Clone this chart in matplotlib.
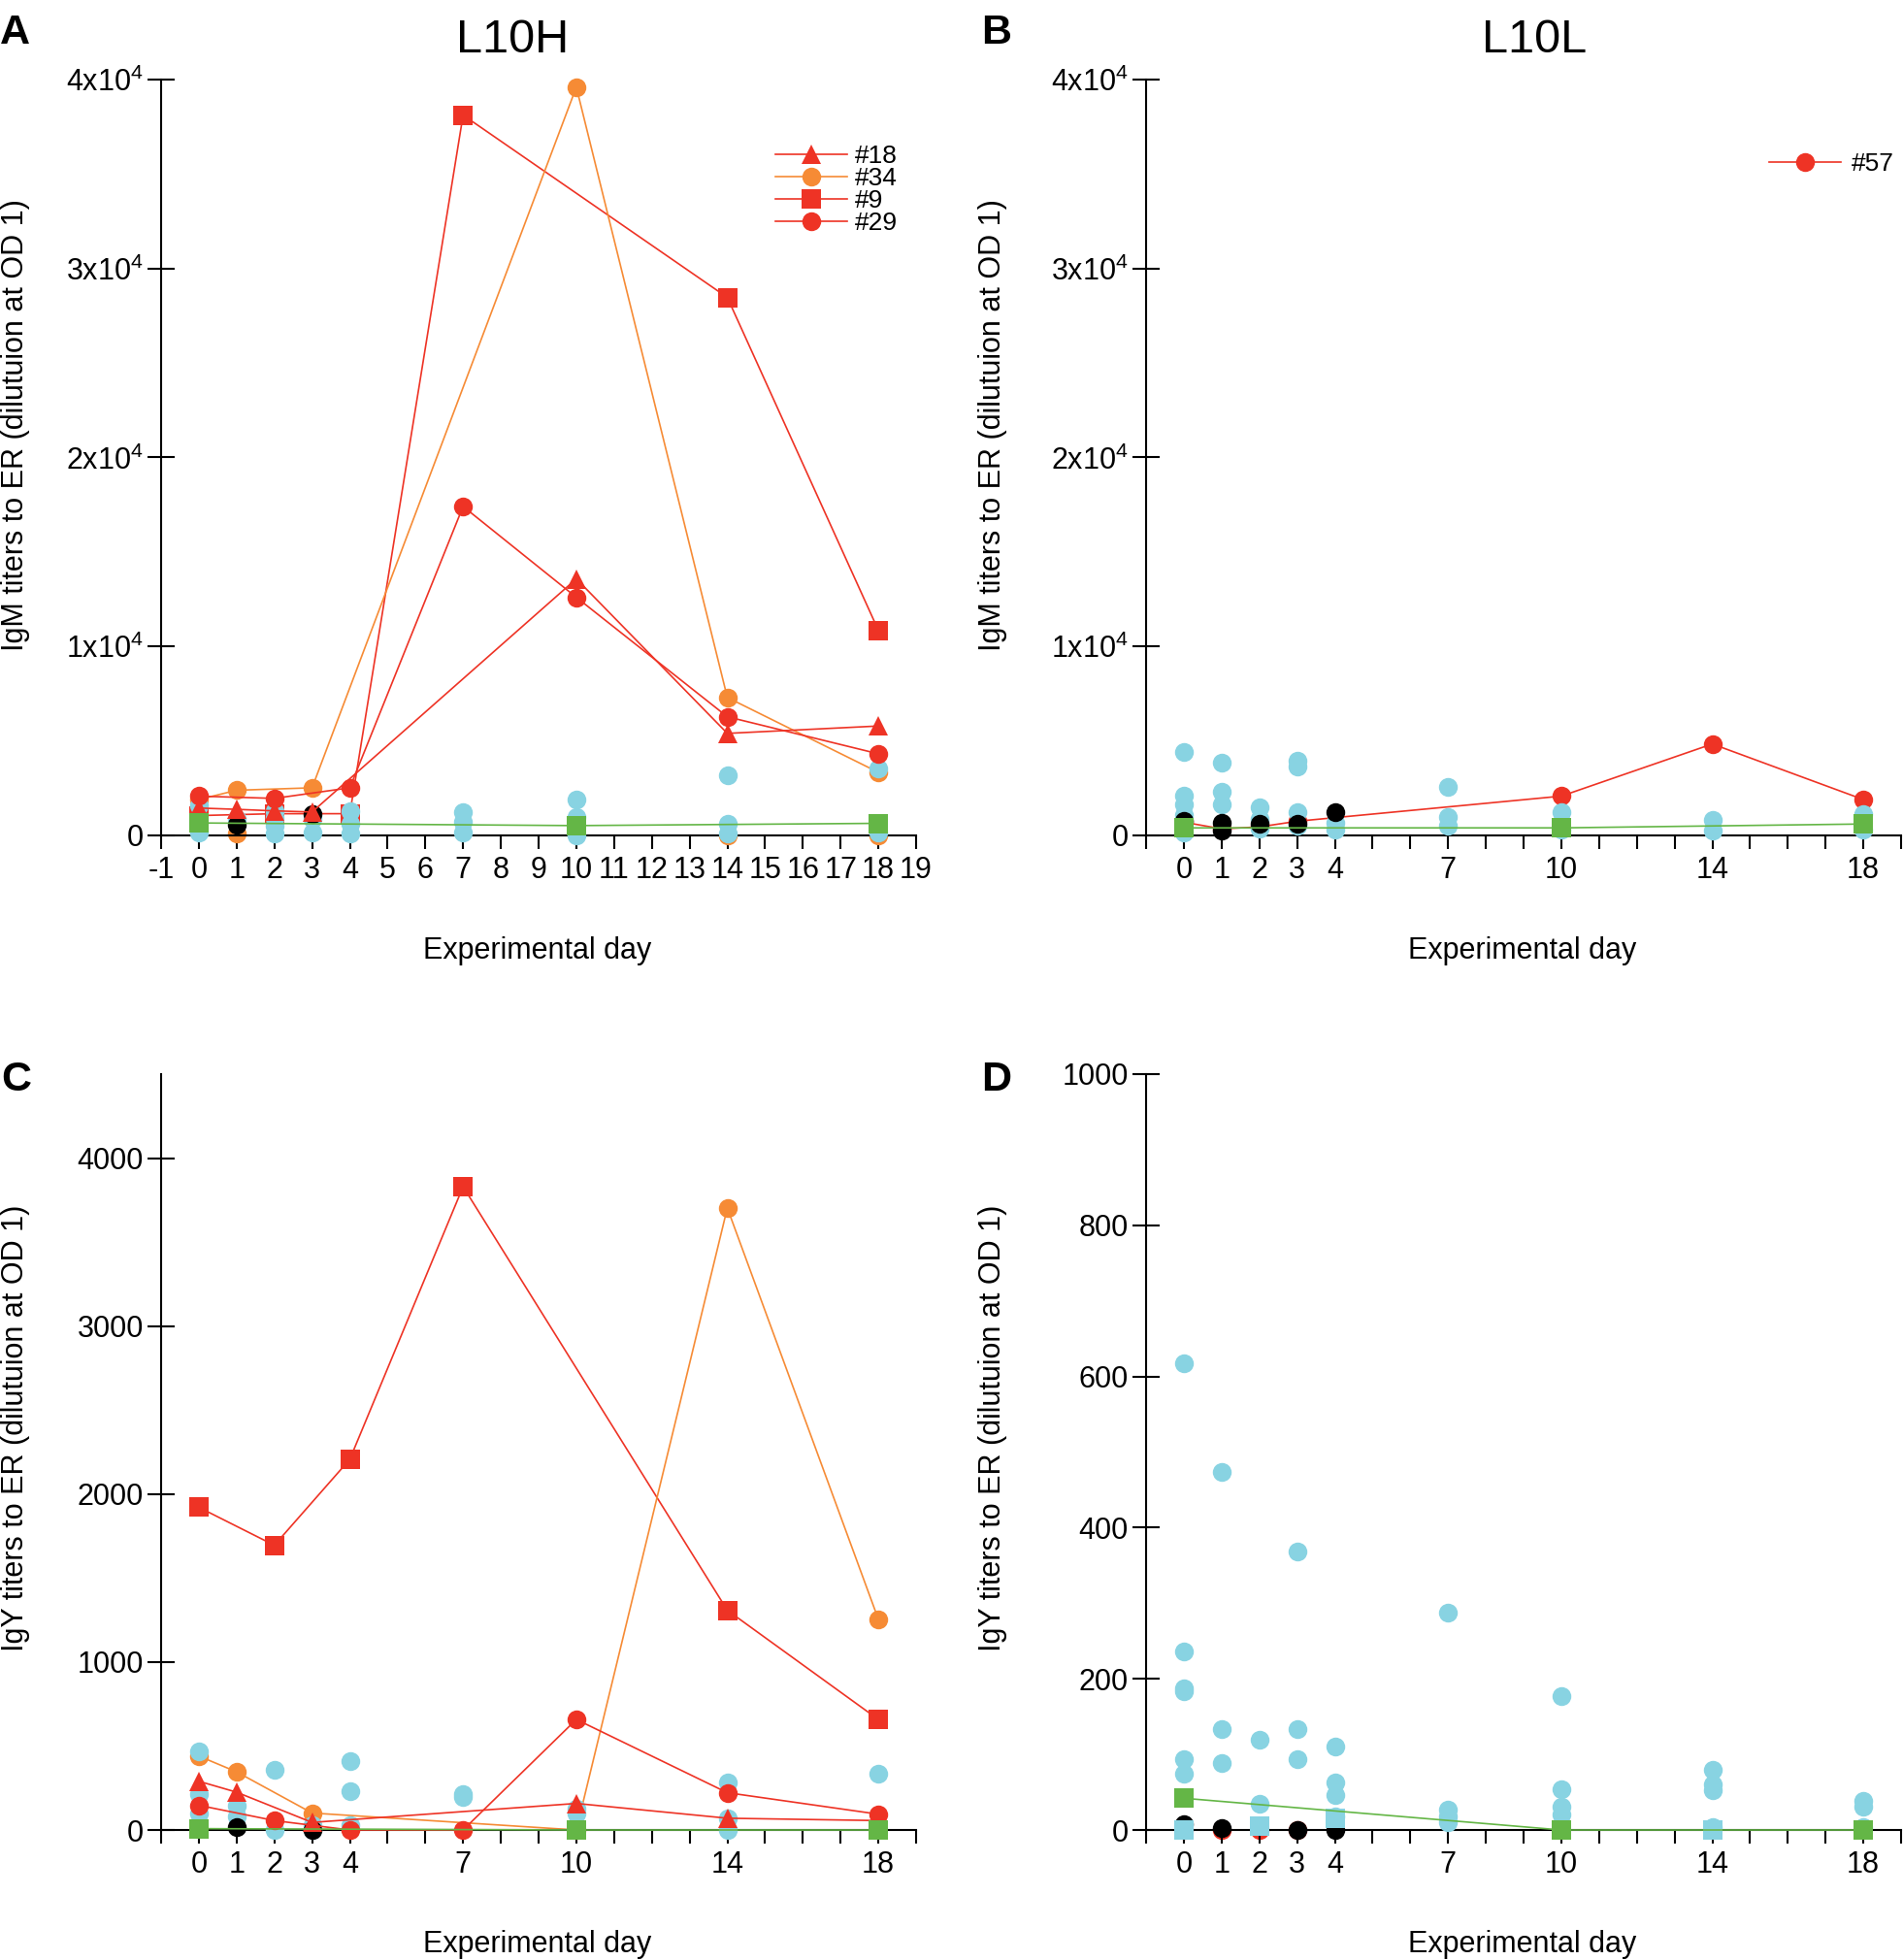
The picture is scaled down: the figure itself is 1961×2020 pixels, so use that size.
import matplotlib
matplotlib.use('Agg')
import matplotlib.pyplot as plt
from matplotlib.ticker import FixedLocator, FixedFormatter

plt.rcParams['font.family'] = ['Liberation Sans', 'DejaVu Sans']
plt.rcParams['mathtext.default'] = 'regular'

# ---------------- data ----------------
# Panel A : IgM, L10H
A18_days = [0, 1, 2, 3, 10, 14, 18]
A18_vals = [1450, 1380, 1300, 1240, 13580, 5400, 5790]
A34_days = [0, 1, 3, 10, 14, 18]
A34_vals = [1900, 2390, 2520, 39600, 7300, 3340]
A9_days = [0, 2, 4, 7, 14, 18]
A9_vals = [1050, 1150, 1150, 38120, 28470, 10860]
A29_days = [0, 2, 4, 7, 10, 14, 18]
A29_vals = [2080, 1960, 2520, 17410, 12600, 6280, 4320]
A_orange_days = [1, 14, 18]
A_orange_vals = [100, 0, 0]
A_black_days = [1, 3]
A_black_vals = [560, 1150]
A_green_days = [0, 10, 18]
A_green_vals = [660, 520, 640]
A_blue_days = [0, 0, 1, 2, 2, 2, 2, 3, 3, 4, 4, 4, 7, 7, 7, 10, 10, 10, 14, 14, 14, 18, 18]
A_blue_vals = [1600, 170, 860, 1300, 900, 500, 100, 860, 170, 1300, 600, 90,
               1210, 700, 170, 1900, 950, 0, 3200, 600, 100, 3550, 170]

# Panel B : IgM, L10L
B57_days = [0, 1, 2, 3, 10, 14, 18]
B57_vals = [700, 350, 450, 750, 2080, 4840, 1900]
B_black_days = [0, 1, 1, 2, 3, 4]
B_black_vals = [780, 690, 260, 600, 600, 1210]
B_green_days = [0, 10, 18]
B_green_vals = [400, 400, 605]
B_blue_days = [0, 0, 0, 0, 0, 1, 1, 1, 2, 2, 2, 3, 3, 3, 3, 4, 4, 7, 7, 7, 10, 10, 14, 14, 18, 18]
B_blue_vals = [4420, 2130, 1640, 1100, 160, 3860, 2290, 1640, 1470, 870, 350,
               3930, 3670, 1240, 490, 650, 330, 2550, 980, 490, 1240, 330, 820, 250, 1150, 330]

# Panel C : IgY, L10H
C18_days = [0, 1, 3, 10, 14, 18]
C18_vals = [290, 225, 45, 158, 70, 56]
C34_days = [0, 1, 3, 10, 14, 18]
C34_vals = [440, 346, 101, 0, 3703, 1255]
C9_days = [0, 2, 4, 7, 14, 18]
C9_vals = [1921, 1695, 2207, 3830, 1308, 658]
C29_days = [0, 2, 4, 7, 10, 14, 18]
C29_vals = [147, 56, 0, 0, 658, 222, 94]
C_black_days = [1, 3]
C_black_vals = [20, 0]
C_green_days = [0, 10, 18]
C_green_vals = [8, 0, 0]
C_blue_days = [0, 0, 0, 1, 1, 2, 2, 3, 3, 4, 4, 4, 7, 7, 10, 10, 14, 14, 14, 18]
C_blue_vals = [470, 214, 100, 147, 80, 357, 0, 26, 0, 410, 233, 26, 214, 195, 128, 100, 282, 71, 0, 335]

# Panel D : IgY, L10L
D57_days = [0, 1, 2, 3]
D57_vals = [0, 0, 0, 0]
D_black_days = [0, 1, 3, 4]
D_black_vals = [8, 2, 0, 0]
D_green_days = [0, 10, 18]
D_green_vals = [42, 0, 0]
D_bluesq_days = [0, 2, 4, 10, 14, 18]
D_bluesq_vals = [0, 5, 15, 0, 0, 0]
D_blue_days = [0, 0, 0, 0, 0, 0, 1, 1, 1, 2, 2, 3, 3, 3, 4, 4, 4, 4,
               7, 7, 7, 7, 10, 10, 10, 10, 14, 14, 14, 14, 18, 18, 18]
D_blue_vals = [618, 236, 188, 183, 94, 74, 474, 133, 88, 119, 35, 368, 133, 94, 110, 63, 46, 18,
               288, 27, 18, 10, 177, 54, 31, 21, 79, 60, 52, 4, 38, 31, 4]

xticks_all = list(range(-1, 20))
xlabels_A = [str(d) for d in xticks_all]
shown_days = [0, 1, 2, 3, 4, 7, 10, 14, 18]
xlabels_sparse = [str(d) if d in shown_days else '' for d in xticks_all]

igm_ticks = [0, 10000, 20000, 30000, 40000]
igm_labels = ['0', '1x10$^4$', '2x10$^4$', '3x10$^4$', '4x10$^4$']
C_ticks = [0, 1000, 2000, 3000, 4000]
D_ticks = [0, 200, 400, 600, 800, 1000]

RED = '#EE3325'
ORANGE = '#F68B35'
BLUE = '#88D3E2'
GREEN = '#64B646'
BLACK = '#000000'

# ---------------- figure ----------------
W, H = 1961, 2020
fig = plt.figure(figsize=(W / 100, H / 100), dpi=100)


def rect(l, t, r, b):
    return [l / W, 1 - b / H, (r - l) / W, (b - t) / H]


axA = fig.add_axes(rect(166, 82, 944, 861))
axB = fig.add_axes(rect(1181, 82, 1959, 861))
axC = fig.add_axes(rect(166, 1107, 944, 1886))
axD = fig.add_axes(rect(1181, 1107, 1959, 1886))

MS = 14
LW = 1.2


def style(ax, ylim, yticks, ylabels, xlabels):
    ax.set_xlim(-1, 19)
    ax.set_ylim(*ylim)
    for s in ['top', 'right']:
        ax.spines[s].set_visible(False)
    for s in ['left', 'bottom']:
        ax.spines[s].set_linewidth(1.5)
    ax.xaxis.set_major_locator(FixedLocator(xticks_all))
    ax.xaxis.set_major_formatter(FixedFormatter(xlabels))
    ax.yaxis.set_major_locator(FixedLocator(yticks))
    ax.yaxis.set_major_formatter(FixedFormatter(ylabels))
    ax.tick_params(axis='x', direction='out', length=10, width=1.5, labelsize=22, pad=5)
    ax.tick_params(axis='y', direction='inout', length=20, width=1.5, labelsize=22, pad=3)
    ax.set_facecolor('none')


def series(ax, d, v, color, marker, z, line=True, ms=MS):
    ax.plot(d, v, color=color, marker=marker, ms=ms, lw=LW if line else 0,
            markeredgewidth=0, clip_on=False, zorder=z)


# Panel A
hA9, = axA.plot(A9_days, A9_vals, color=RED, marker='s', ms=MS, lw=LW, mew=0, clip_on=False, zorder=2)
hA34, = axA.plot(A34_days, A34_vals, color=ORANGE, marker='o', ms=MS, lw=LW, mew=0, clip_on=False, zorder=2.2)
series(axA, A_orange_days, A_orange_vals, ORANGE, 'o', 2.1, line=False)
series(axA, A_blue_days, A_blue_vals, BLUE, 'o', 3, line=False)
series(axA, A_black_days, A_black_vals, BLACK, 'o', 3.5, line=False)
hA18, = axA.plot(A18_days, A18_vals, color=RED, marker='^', ms=MS + 1, lw=LW, mew=0, clip_on=False, zorder=4)
hA29, = axA.plot(A29_days, A29_vals, color=RED, marker='o', ms=MS, lw=LW, mew=0, clip_on=False, zorder=4.5)
series(axA, A_green_days, A_green_vals, GREEN, 's', 5)
style(axA, (0, 40000), igm_ticks, igm_labels, xlabels_A)

# Panel B
hB57, = axB.plot(B57_days, B57_vals, color=RED, marker='o', ms=MS, lw=LW, mew=0, clip_on=False, zorder=2)
series(axB, B_blue_days, B_blue_vals, BLUE, 'o', 3, line=False)
series(axB, B_black_days, B_black_vals, BLACK, 'o', 3.5, line=False)
series(axB, B_green_days, B_green_vals, GREEN, 's', 5)
style(axB, (0, 40000), igm_ticks, igm_labels, xlabels_sparse)

# Panel C
series(axC, C9_days, C9_vals, RED, 's', 2)
series(axC, C34_days, C34_vals, ORANGE, 'o', 2.2)
series(axC, C_blue_days, C_blue_vals, BLUE, 'o', 3, line=False)
series(axC, C_black_days, C_black_vals, BLACK, 'o', 3.5, line=False)
series(axC, C18_days, C18_vals, RED, '^', 4, ms=MS + 1)
series(axC, C29_days, C29_vals, RED, 'o', 4.5)
series(axC, C_green_days, C_green_vals, GREEN, 's', 5)
style(axC, (0, 4500), C_ticks, [str(t) for t in C_ticks], xlabels_sparse)

# Panel D
series(axD, D57_days, D57_vals, RED, 'o', 1.5)
series(axD, D_black_days, D_black_vals, BLACK, 'o', 2.5, line=False)
series(axD, D_blue_days, D_blue_vals, BLUE, 'o', 3, line=False)
series(axD, D_bluesq_days, D_bluesq_vals, BLUE, 's', 3.2, line=False)
series(axD, D_green_days, D_green_vals, GREEN, 's', 5)
style(axD, (0, 1000), D_ticks, [str(t) for t in D_ticks], xlabels_sparse)

# Legends
legA = axA.legend([hA18, hA34, hA9, hA29], ['#18', '#34', '#9', '#29'],
                  loc='upper left', bbox_to_anchor=(799 / W, 1 - 149 / H),
                  bbox_transform=fig.transFigure, frameon=False, fontsize=19,
                  handlelength=2.8, handletextpad=0.3, labelspacing=-0.04,
                  borderpad=0, borderaxespad=0, markerscale=1.0)
legB = axB.legend([hB57], ['#57'], loc='upper left', bbox_to_anchor=(1823 / W, 1 - 157 / H),
                  bbox_transform=fig.transFigure, frameon=False, fontsize=19,
                  handlelength=2.8, handletextpad=0.4, borderpad=0, borderaxespad=0,
                  markerscale=1.0)

# Titles
fig.text(528 / W, 1 - 41 / H, 'L10H', fontsize=35, ha='center', va='center')
fig.text(1581 / W, 1 - 41 / H, 'L10L', fontsize=35, ha='center', va='center')

# Panel letters
for lab, x, yb in [('A', 0, 45), ('B', 1011, 45), ('C', 1, 1124), ('D', 1011, 1124)]:
    fig.text(x / W, 1 - yb / H, lab, fontsize=31, fontweight='bold', ha='left', va='baseline')

# Axis labels
igm = 'IgM titers to ER (dilutuion at OD 1)'
igy = 'IgY titers to ER (dilutuion at OD 1)'
fig.text(16 / W, 1 - 438 / H, igm, fontsize=22, rotation=90, ha='center', va='center')
fig.text(1023 / W, 1 - 438 / H, igm, fontsize=22, rotation=90, ha='center', va='center')
fig.text(16 / W, 1 - 1472 / H, igy, fontsize=22, rotation=90, ha='center', va='center')
fig.text(1023 / W, 1 - 1472 / H, igy, fontsize=22, rotation=90, ha='center', va='center')
fig.text(554 / W, 1 - 980 / H, 'Experimental day', fontsize=22, ha='center', va='center')
fig.text(1569 / W, 1 - 980 / H, 'Experimental day', fontsize=22, ha='center', va='center')
fig.text(554 / W, 1 - 2004 / H, 'Experimental day', fontsize=22, ha='center', va='center')
fig.text(1569 / W, 1 - 2004 / H, 'Experimental day', fontsize=22, ha='center', va='center')

fig.savefig('out.png', dpi=100, facecolor='white')
